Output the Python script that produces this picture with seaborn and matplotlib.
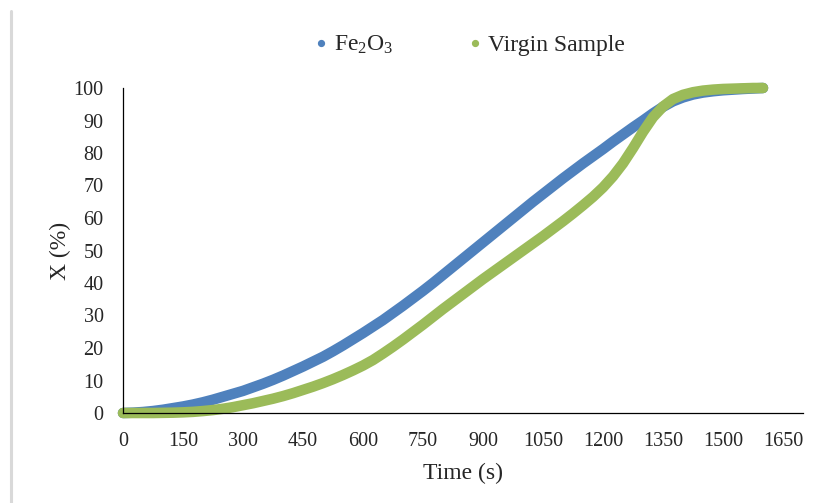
import matplotlib
matplotlib.use("Agg")
import matplotlib.pyplot as plt
from matplotlib.lines import Line2D
import seaborn as sns
import pandas as pd

# ---- data ----
time_s = [0, 25, 50, 75, 100, 125, 150, 175, 200, 225, 250, 275, 300, 325, 350, 375,
          400, 425, 450, 475, 500, 525, 550, 575, 600, 625, 650, 675, 700, 725, 750, 775,
          800, 825, 850, 875, 900, 925, 950, 975, 1000, 1025, 1050, 1075, 1100, 1125, 1150,
          1175, 1200, 1225, 1250, 1275, 1300, 1325, 1350, 1375, 1400, 1425, 1450, 1475,
          1500, 1525, 1550, 1575, 1600]
fe2o3 = [0, 0.1, 0.3, 0.6, 1.0, 1.5, 2.0, 2.6, 3.3, 4.1, 5.0, 5.9, 6.8, 7.9, 9.0, 10.2,
         11.5, 12.9, 14.3, 15.8, 17.3, 19.0, 20.8, 22.7, 24.6, 26.6, 28.6, 30.8, 33.0, 35.3,
         37.6, 40.0, 42.5, 45.0, 47.5, 50.0, 52.5, 55.0, 57.5, 60.0, 62.5, 65.0, 67.4, 69.8,
         72.2, 74.5, 76.8, 79.0, 81.2, 83.5, 85.7, 87.9, 90.0, 92.2, 94.2, 95.9, 97.1, 98.0,
         98.6, 99.0, 99.3, 99.5, 99.7, 99.85, 100]
virgin = [0, 0, 0, 0, 0.05, 0.1, 0.2, 0.35, 0.6, 0.9, 1.3, 1.8, 2.4, 3.0, 3.7, 4.4,
          5.2, 6.1, 7.1, 8.1, 9.2, 10.4, 11.7, 13.1, 14.6, 16.3, 18.3, 20.4, 22.6, 24.9,
          27.2, 29.6, 32.0, 34.3, 36.6, 38.9, 41.2, 43.4, 45.6, 47.8, 50.0, 52.2, 54.4,
          56.7, 59.0, 61.4, 63.9, 66.5, 69.4, 72.8, 76.8, 81.5, 86.5, 91.0, 94.3, 96.6,
          97.9, 98.7, 99.2, 99.5, 99.7, 99.8, 99.9, 100, 100]
series_names = ["Fe$_2$O$_3$", "Virgin Sample"]
x_ticks = [0, 150, 300, 450, 600, 750, 900, 1050, 1200, 1350, 1500, 1650]
y_ticks = [0, 10, 20, 30, 40, 50, 60, 70, 80, 90, 100]

colors = ["#4F81BD", "#9BBB59"]

df = pd.DataFrame({
    "t": time_s * 2,
    "X": fe2o3 + virgin,
    "s": [series_names[0]] * len(time_s) + [series_names[1]] * len(time_s),
})

sns.set_style("white")
plt.rcParams["font.family"] = ["Liberation Serif", "DejaVu Serif"]
plt.rcParams["mathtext.fontset"] = "custom"
plt.rcParams["mathtext.rm"] = "Liberation Serif"
plt.rcParams["mathtext.default"] = "regular"

fig = plt.figure(figsize=(8.35, 5.03), dpi=100)
ax = fig.add_axes([123 / 835, 1 - 413 / 503, 680 / 835, 325 / 503])

sns.lineplot(data=df, x="t", y="X", hue="s", palette=colors, hue_order=series_names,
             lw=7.6, solid_capstyle="round", legend=False, ax=ax, clip_on=False,
             sort=False, estimator=None)

ax.set_xlim(0, 1700)
ax.set_ylim(0, 100)
ax.set_xticks(x_ticks)
ax.set_yticks(y_ticks)
ax.tick_params(axis="x", direction="in", length=5, width=0.8, color="black",
               labelsize=14.5, pad=14)
ax.tick_params(axis="y", length=0, labelsize=14.5, pad=14)
for side in ["top", "right"]:
    ax.spines[side].set_visible(False)
for side in ["left", "bottom"]:
    ax.spines[side].set_color("black")
    ax.spines[side].set_linewidth(0.9)
ax.set_xlabel("Time (s)", fontsize=17, labelpad=8)
ax.set_ylabel("X (%)", fontsize=17, labelpad=2)

handles = [Line2D([], [], ls="none", marker="o", ms=4.2, color=c) for c in colors]
fig.legend(handles, series_names, loc="center", bbox_to_anchor=(467 / 835, 1 - 45 / 503),
           ncol=2, frameon=False, fontsize=17, handletextpad=0.05, columnspacing=2.95,
           handlelength=1.0)

fig.add_artist(Line2D([11 / 835, 11 / 835], [1 - 11 / 503, 0], color="#d9d9d9", lw=2.2))

fig.savefig("out.png", dpi=100)
